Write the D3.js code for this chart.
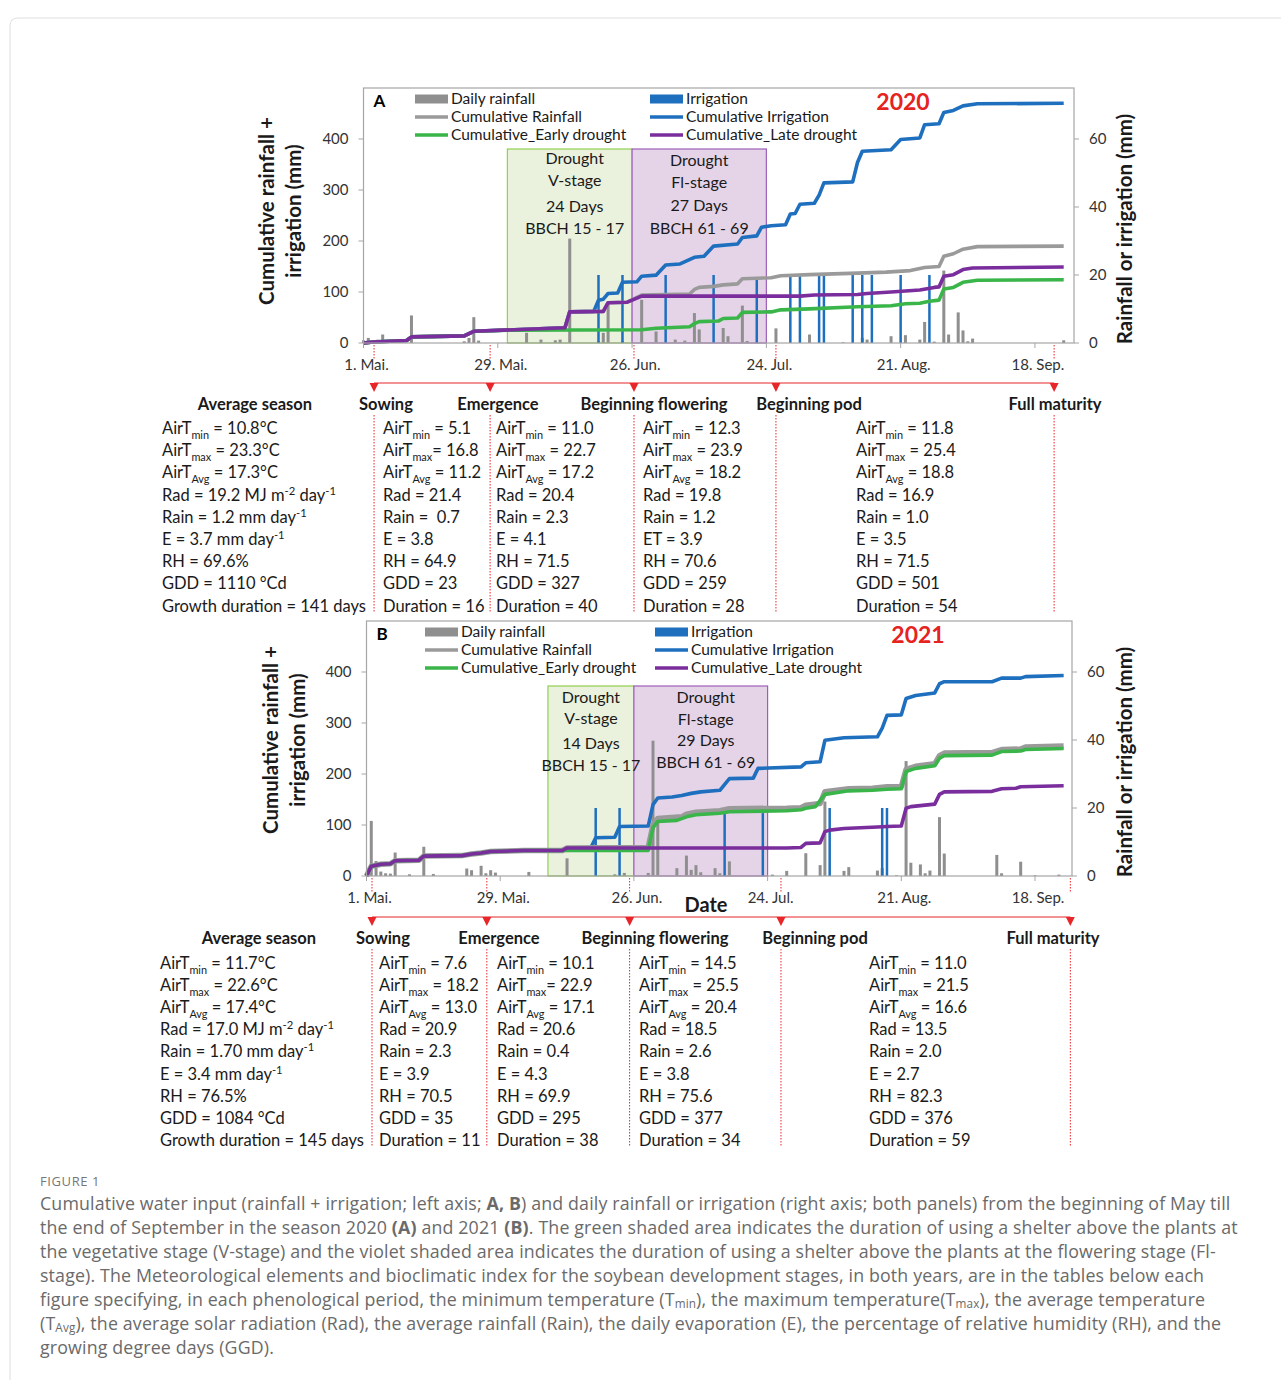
<!DOCTYPE html>
<html><head><meta charset="utf-8">
<script src="https://cdn.jsdelivr.net/npm/d3@7"></script>
<style>
body{margin:0;background:#fff}
svg text{font-family:Lato,"Open Sans",sans-serif;white-space:pre}
</style></head>
<body><svg id="c" width="1281" height="1380"></svg>
<script>
// ---------------- DATA ----------------
const tickDays = [0, 28, 56, 84, 112, 140];
const tickLabels = ["1. Mai.", "29. Mai.", "26. Jun.", "24. Jul.", "21. Aug.", "18. Sep."];
const leftTicks = [0, 100, 200, 300, 400];
const rightTicks = [0, 20, 40, 60];
const legendLabels = ["Daily rainfall", "Cumulative Rainfall", "Cumulative_Early drought", "Irrigation", "Cumulative Irrigation", "Cumulative_Late drought"];
const stageNames = ["Sowing", "Emergence", "Beginning flowering", "Beginning pod", "Full maturity"];

// 2020 (panel A): [day since 1 May, mm]
const rainA = [[0,0.8],[1,1.5],[3,1.0],[4,2.5],[10,8.1],[21,0.5],[22,1.5],[23,7.6],[24,0.7],[34,3.0],[37,1.0],[40,0.8],[41,1.0],[43,30.7],[49,0.5],[50,3.0],[51,11.8],[54,0.5],[58,12.7],[61,3.4],[65,1.0],[67,0.7],[69,8.8],[70,4.0],[75,4.4],[76,2.0],[79,11.0],[80,0.6],[86,4.3],[93,2.5],[100,0.2],[104,1.5],[105,1.0],[110,2.0],[113,2.3],[116,1.0],[117,6.2],[119,0.4],[121,21.3],[122,2.5],[124,9.0],[125,3.7],[126,0.5],[127,1.3],[146,0.8]];
const irrA = [[49,20],[54,20],[63,20],[73,20],[82,19],[89,20],[91,20],[95,20],[96,20],[102,20],[104,20],[106,20],[112,20],[118,20]];
const cumRainA = [[0,0],[2,2],[9,5],[10,12],[21,14],[23,23],[42,30],[43,61],[50,62],[51,79],[55,80],[58,94],[68,96],[69,105],[70,109],[73,111],[75,114],[78,116],[79,126],[85,128],[87,132],[93,134],[103,137],[109,139],[114,142],[117,148],[120,150],[121,170],[123,175],[125,184],[128,189],[146,190]];
const cumIrrA = [[0,0],[2,2],[9,5],[10,12],[21,14],[23,23],[42,30],[43,61],[48,62],[49,84],[50,86],[51,97],[53,98],[54,119],[57,120],[58,131],[61,133],[63,153],[66,155],[69,168],[71,170],[73,190],[78,194],[79,207],[82,210],[83,227],[85,230],[88,232],[89,253],[90,254],[91,272],[94,274],[95,290],[96,314],[102,316],[103,354],[104,376],[110,379],[112,399],[116,402],[117,428],[120,430],[121,452],[123,456],[125,465],[128,469],[146,470]];
const cumEarlyA = [[0,0],[2,2],[9,5],[10,12],[21,14],[23,23],[30,25],[58,26],[61,29],[68,32],[69,38],[70,42],[74,43],[75,48],[78,49],[79,60],[85,61],[87,65],[93,67],[103,71],[110,73],[113,77],[116,78],[118,82],[120,84],[121,106],[123,109],[125,119],[128,123],[146,124]];
const cumLateA = [[0,0],[2,2],[9,5],[10,12],[21,14],[23,23],[42,30],[43,61],[50,62],[51,79],[55,80],[58,92],[91,92],[94,94],[103,95],[105,97],[110,100],[113,102],[116,104],[119,109],[120,110],[121,131],[123,134],[125,144],[127,147],[146,149]];
const shelterA = [[30,56],[56,84]];
const shelterTextA = [["Drought","V-stage","24 Days","BBCH 15 - 17"],["Drought","Fl-stage","27 Days","BBCH 61 - 69"]];
const stageDaysA = [2.2, 26.4, 56.4, 86, 144];

// 2021 (panel B)
const rainB = [[1,16.2],[2,4.4],[3,1.3],[4,0.8],[5,0.7],[6,6.9],[9,0.5],[12,8.6],[14,0.6],[21,2.2],[22,1.7],[24,3.0],[25,0.8],[26,1.7],[27,1.0],[34,1.2],[42,5.2],[52,0.5],[54,0.9],[59,0.9],[60,39.8],[61,17.2],[65,2.3],[67,6.0],[68,1.8],[69,3.2],[70,1.1],[73,2.3],[74,0.8],[76,4.3],[85,0.4],[88,1.5],[92,6.7],[95,3.2],[96,21.9],[97,0.2],[100,1.5],[101,2.6],[107,1.6],[108,2.3],[111,0.2],[113,33.8],[114,3.9],[116,3.4],[117,0.8],[118,1.6],[120,17.3],[121,6.6],[132,6.2],[133,0.8],[137,4.2],[140,0.2],[145,0.4]];
const irrB = [[48,20],[53,20],[75,18.5],[83,18.5],[97,20],[108,20],[109,20]];
const cumRainB = [[0,0],[1,19],[3,23],[5,24],[6,30],[11,31],[12,39],[20,40],[22,43],[24,45],[26,48],[33,50],[41,50],[42,55],[59,56],[60,100],[61,113],[66,116],[67,121],[69,125],[74,128],[76,132],[88,133],[91,134],[92,139],[95,142],[96,165],[101,171],[106,172],[109,175],[112,175],[113,209],[115,215],[119,220],[120,236],[121,241],[131,242],[133,248],[137,249],[138,253],[146,255]];
const cumIrrB = [[0,0],[1,19],[3,23],[5,24],[6,30],[11,31],[12,39],[20,40],[22,43],[24,45],[26,48],[33,50],[41,50],[42,55],[47,56],[48,75],[52,76],[53,97],[59,98],[60,140],[61,153],[64,155],[66,158],[68,162],[70,165],[74,168],[76,191],[81,192],[82,211],[91,214],[92,222],[95,224],[96,266],[100,271],[107,273],[108,290],[109,315],[112,316],[113,348],[115,354],[119,359],[120,377],[121,381],[131,381],[133,388],[137,388],[138,391],[146,393]];
const cumEarlyB = [[0,0],[1,19],[3,23],[5,24],[6,30],[11,31],[12,39],[20,40],[22,43],[24,45],[26,48],[33,50],[41,50],[59,50],[60,95],[61,107],[65,109],[67,116],[69,120],[74,123],[76,126],[88,128],[91,130],[92,133],[94,136],[96,160],[101,167],[106,168],[109,170],[112,171],[113,205],[115,211],[119,216],[120,231],[121,236],[131,237],[133,244],[137,245],[138,248],[146,250]];
const cumLateB = [[0,0],[1,19],[3,23],[5,24],[6,30],[11,31],[12,39],[20,40],[22,43],[24,45],[26,48],[33,50],[41,50],[42,55],[88,55],[91,56],[92,64],[95,65],[96,87],[97,90],[100,93],[107,96],[109,97],[112,98],[113,133],[114,136],[119,141],[120,160],[121,165],[131,166],[133,171],[136,172],[137,175],[146,177]];
const shelterB = [[38,56],[56,84]];
const shelterTextB = [["Drought","V-stage","14 Days","BBCH 15 - 17"],["Drought","Fl-stage","29 Days","BBCH 61 - 69"]];
const stageDaysB = [1.15, 25.2, 55.1, 86.8, 147.4];

// tables
const avgA = ["AirT_{min} = 10.8°C","AirT_{max} = 23.3°C","AirT_{Avg} = 17.3°C","Rad = 19.2 MJ m^{-2} day^{-1}","Rain = 1.2 mm day^{-1}","E = 3.7 mm day^{-1}","RH = 69.6%","GDD = 1110 °Cd","Growth duration = 141 days"];
const sowA = ["AirT_{min} = 5.1","AirT_{max}= 16.8","AirT_{Avg} = 11.2","Rad = 21.4","Rain =  0.7","E = 3.8","RH = 64.9","GDD = 23","Duration = 16"];
const emA = ["AirT_{min} = 11.0","AirT_{max} = 22.7","AirT_{Avg} = 17.2","Rad = 20.4","Rain = 2.3","E = 4.1","RH = 71.5","GDD = 327","Duration = 40"];
const flA = ["AirT_{min} = 12.3","AirT_{max} = 23.9","AirT_{Avg} = 18.2","Rad = 19.8","Rain = 1.2","ET = 3.9","RH = 70.6","GDD = 259","Duration = 28"];
const podA = ["AirT_{min} = 11.8","AirT_{max} = 25.4","AirT_{Avg} = 18.8","Rad = 16.9","Rain = 1.0","E = 3.5","RH = 71.5","GDD = 501","Duration = 54"];
const avgB = ["AirT_{min} = 11.7°C","AirT_{max} = 22.6°C","AirT_{Avg} = 17.4°C","Rad = 17.0 MJ m^{-2} day^{-1}","Rain = 1.70 mm day^{-1}","E = 3.4 mm day^{-1}","RH = 76.5%","GDD = 1084 °Cd","Growth duration = 145 days"];
const sowB = ["AirT_{min} = 7.6","AirT_{max} = 18.2","AirT_{Avg} = 13.0","Rad = 20.9","Rain = 2.3","E = 3.9","RH = 70.5","GDD = 35","Duration = 11"];
const emB = ["AirT_{min} = 10.1","AirT_{max}= 22.9","AirT_{Avg} = 17.1","Rad = 20.6","Rain = 0.4","E = 4.3","RH = 69.9","GDD = 295","Duration = 38"];
const flB = ["AirT_{min} = 14.5","AirT_{max} = 25.5","AirT_{Avg} = 20.4","Rad = 18.5","Rain = 2.6","E = 3.8","RH = 75.6","GDD = 377","Duration = 34"];
const podB = ["AirT_{min} = 11.0","AirT_{max} = 21.5","AirT_{Avg} = 16.6","Rad = 13.5","Rain = 2.0","E = 2.7","RH = 82.3","GDD = 376","Duration = 59"];

const captionTitle = "FIGURE 1";
const captionLines = [
 "Cumulative water input (rainfall + irrigation; left axis; **A, B**) and daily rainfall or irrigation (right axis; both panels) from the beginning of May till",
 "the end of September in the season 2020 **(A)** and 2021 **(B)**. The green shaded area indicates the duration of using a shelter above the plants at",
 "the vegetative stage (V-stage) and the violet shaded area indicates the duration of using a shelter above the plants at the flowering stage (Fl-",
 "stage). The Meteorological elements and bioclimatic index for the soybean development stages, in both years, are in the tables below each",
 "figure specifying, in each phenological period, the minimum temperature (T_{min}), the maximum temperature(T_{max}), the average temperature",
 "(T_{Avg}), the average solar radiation (Rad), the average rainfall (Rain), the daily evaporation (E), the percentage of relative humidity (RH), and the",
 "growing degree days (GGD)."
];

// ---------------- DRAW ----------------
const C = {gray:"#8f8f8f", grayLine:"#9a9a9a", blue:"#1f6fbf", green:"#3ab54a", purple:"#7a2d9c",
  gFill:"#eaf1dd", gStroke:"#92d050", pFill:"#e5d4e8", pStroke:"#9b5fb8", red:"#e8262a", axis:"#a6a6a6", text:"#1a1a1a"};
const svg = d3.select("#c");

// page frame
svg.append("path").attr("d","M10,1380 L10,26 Q10,18 18,18 L1290,18").attr("fill","none").attr("stroke","#dedede").attr("stroke-width",1);

function rich(t, str, fs, subK){
  const k = subK || 0.28;
  const parts = str.split(/(_\{[^}]*\}|\^\{[^}]*\}|\*\*[^*]*\*\*)/).filter(s=>s.length);
  let shift = 0;
  parts.forEach(p=>{
    let txt=p, target=0, size=fs, bold=false;
    if(p.startsWith("_{")){txt=p.slice(2,-1); target=fs*k; size=fs*0.66;}
    else if(p.startsWith("^{")){txt=p.slice(2,-1); target=-fs*0.36; size=fs*0.68;}
    else if(p.startsWith("**")){txt=p.slice(2,-2); bold=true;}
    const ts = t.append("tspan").attr("dy", target-shift).style("font-size", size+"px").text(txt);
    if(bold) ts.style("font-weight","bold");
    shift = target;
  });
}

function panel(o){
  const g = svg.append("g");
  const x = d3.scaleLinear().domain([0,148]).range([o.x0, o.x1]);
  const yL = d3.scaleLinear().domain([0,500]).range([o.bottom, o.top]);
  const yR = d3.scaleLinear().domain([0,75]).range([o.bottom, o.top]);

  // shelter boxes
  const fills=[C.gFill,C.pFill], strokes=[C.gStroke,C.pStroke];
  o.shelter.forEach((s,i)=>{
    g.append("rect").attr("x",x(s[0])).attr("y",o.boxTop).attr("width",x(s[1])-x(s[0])).attr("height",o.bottom-o.boxTop)
     .attr("fill",fills[i]).attr("stroke",strokes[i]).attr("stroke-width",1.2);
  });
  // rain bars
  g.selectAll(".rb").data(o.rain).join("rect").attr("x",d=>x(d[0])-1.5).attr("width",3)
    .attr("y",d=>yR(d[1])).attr("height",d=>yR(0)-yR(d[1])).attr("fill",C.gray);
  g.selectAll(".ib").data(o.irr).join("rect").attr("x",d=>x(d[0])-1.25).attr("width",2.5)
    .attr("y",d=>yR(d[1])).attr("height",d=>yR(0)-yR(d[1])).attr("fill",C.blue);
  // lines
  const line = d3.line().x(d=>x(d[0])).y(d=>yL(d[1]));
  [[o.cumIrr,C.blue,3.6],[o.cumRain,C.grayLine,o.grayW],[o.cumEarly,C.green,3.6],[o.cumLate,C.purple,3.6]].forEach(s=>{
    g.append("path").attr("d",line(s[0])).attr("fill","none").attr("stroke",s[1]).attr("stroke-width",s[2])
     .attr("stroke-linejoin","round").attr("stroke-linecap","butt");
  });
  // shelter text
  o.shelter.forEach((s,i)=>{
    const cx = (x(s[0])+x(s[1]))/2 + o.textDx[i];
    o.shelterText[i].forEach((t,j)=>{
      g.append("text").attr("x",cx).attr("y",o.textY[i][j]).attr("text-anchor","middle")
       .style("font-size","16px").attr("fill",C.text).text(t);
    });
  });
  // frame
  g.append("rect").attr("x",o.x0).attr("y",o.top).attr("width",o.boxR-o.x0).attr("height",o.bottom-o.top)
   .attr("fill","none").attr("stroke",C.axis).attr("stroke-width",1.2);
  // left ticks
  leftTicks.forEach(v=>{
    g.append("line").attr("x1",o.x0-5).attr("x2",o.x0).attr("y1",yL(v)).attr("y2",yL(v)).attr("stroke",C.axis);
    g.append("text").attr("x",o.x0-15).attr("y",yL(v)+5).attr("text-anchor","end").style("font-size","15px").attr("fill","#333").text(v);
  });
  rightTicks.forEach(v=>{
    g.append("line").attr("x1",o.boxR).attr("x2",o.boxR+5).attr("y1",yR(v)).attr("y2",yR(v)).attr("stroke",C.axis);
    g.append("text").attr("x",o.boxR+15).attr("y",yR(v)+5).attr("text-anchor","start").style("font-size","15px").attr("fill","#333").text(v);
  });
  tickDays.forEach((d,i)=>{
    g.append("line").attr("x1",x(d)).attr("x2",x(d)).attr("y1",o.bottom).attr("y2",o.bottom+5).attr("stroke",C.axis);
    g.append("text").attr("x",x(d)+3).attr("y",o.bottom+27).attr("text-anchor","middle").style("font-size","15px").attr("fill","#333").text(tickLabels[i]);
  });
  // axis titles
  const lt = g.append("text").attr("transform",`translate(${o.ltX},${o.ltY}) rotate(-90)`).attr("text-anchor","middle")
    .style("font-size","20.5px").style("font-weight","bold").attr("fill",C.text);
  lt.append("tspan").attr("x",0).attr("dy",0).text("Cumulative rainfall +");
  lt.append("tspan").attr("x",0).attr("dy",27).text("irrigation (mm)");
  g.append("text").attr("transform",`translate(${o.rtX},${o.rtY}) rotate(-90)`).attr("text-anchor","middle")
    .style("font-size","20.5px").style("font-weight","bold").attr("fill",C.text).text("Rainfall or irrigation (mm)");
  // panel letter & year
  g.append("text").attr("x",o.x0+10).attr("y",o.top+19).style("font-size","17px").style("font-weight","bold").attr("fill","#000").text(o.letter);
  g.append("text").attr("x",o.yearX).attr("y",o.top+22).attr("text-anchor","middle").style("font-size","23px").style("font-weight","bold").attr("fill","#e5231f").text(o.year);
  // legend
  const L = o.leg;
  const rows = [L.y0, L.y0+18, L.y0+36];
  [[0,C.gray,"rect"],[1,C.grayLine,"line"],[2,C.green,"line"]].forEach((e,i)=>{
    if(e[2]==="rect") g.append("rect").attr("x",L.x1).attr("y",rows[i]-4.5).attr("width",33).attr("height",9).attr("fill",e[1]);
    else g.append("line").attr("x1",L.x1).attr("x2",L.x1+33).attr("y1",rows[i]).attr("y2",rows[i]).attr("stroke",e[1]).attr("stroke-width",3.5);
    g.append("text").attr("x",L.x1+36).attr("y",rows[i]+5).style("font-size","15.5px").attr("fill",C.text).text(legendLabels[e[0]]);
  });
  [[3,C.blue,"rect"],[4,C.blue,"line"],[5,C.purple,"line"]].forEach((e,i)=>{
    if(e[2]==="rect") g.append("rect").attr("x",L.x2).attr("y",rows[i]-4.5).attr("width",33).attr("height",9).attr("fill",e[1]);
    else g.append("line").attr("x1",L.x2).attr("x2",L.x2+33).attr("y1",rows[i]).attr("y2",rows[i]).attr("stroke",e[1]).attr("stroke-width",3.5);
    g.append("text").attr("x",L.x2+36).attr("y",rows[i]+5).style("font-size","15.5px").attr("fill",C.text).text(legendLabels[e[0]]);
  });
  // stage timeline
  const sx = o.stages.map(d=>x(d));
  sx.forEach(v=>{
    g.append("line").attr("x1",v).attr("x2",v).attr("y1",o.bottom+2).attr("y2",o.bottom+17).attr("stroke",C.red).attr("stroke-width",1).attr("stroke-dasharray","1.5,1.5");
    g.append("line").attr("x1",v).attr("x2",v).attr("y1",o.tabTop).attr("y2",o.tabBot).attr("stroke",C.red).attr("stroke-width",1).attr("stroke-dasharray","1.5,1.5");
    g.append("path").attr("d",`M${v-4.5},${o.lineY} L${v+4.5},${o.lineY} L${v},${o.lineY+9} Z`).attr("fill",C.red);
  });
  g.append("line").attr("x1",sx[0]).attr("x2",sx[sx.length-1]).attr("y1",o.lineY).attr("y2",o.lineY).attr("stroke",C.red).attr("stroke-width",1.2);
  // table
  const hdr = ["Average season"].concat(stageNames);
  hdr.forEach((h,i)=>{
    g.append("text").attr("x",o.hdrX[i]).attr("y",o.hdrY+6).attr("text-anchor","middle").style("font-size","16.5px").style("font-weight","bold").attr("fill",C.text).text(h);
  });
  o.cols.forEach((col,ci)=>{
    col.forEach((s,ri)=>{
      const t = g.append("text").attr("x",o.colX[ci]).attr("y",o.rowY0+ri*o.rowDy+6).style("font-size","16.5px").attr("fill",C.text);
      rich(t,s,16.5);
    });
  });
  return {x};
}

panel({x0:363.5,x1:1073.3,boxR:1074,top:88,bottom:343,boxTop:149,
  rain:rainA,irr:irrA,cumRain:cumRainA,cumIrr:cumIrrA,cumEarly:cumEarlyA,cumLate:cumLateA,grayW:3.6,
  shelter:shelterA,shelterText:shelterTextA,textDx:[5,0],textY:[[164,186,212,234],[166,188,211,234]],
  ltX:274,ltY:211,rtX:1132,rtY:229,letter:"A",year:"2020",yearX:903,leg:{x1:415,x2:650,y0:99},
  stages:stageDaysA,lineY:383,tabTop:415,tabBot:612,
  hdrX:[255,386,498,654,809,1055],hdrY:404,colX:[162,383,496,643,856],rowY0:428,rowDy:22.2,
  cols:[avgA,sowA,emA,flA,podA]});

panel({x0:366.5,x1:1073.2,boxR:1072,top:621,bottom:876,boxTop:686,
  rain:rainB,irr:irrB,cumRain:cumRainB,cumIrr:cumIrrB,cumEarly:cumEarlyB,cumLate:cumLateB,grayW:5.5,
  shelter:shelterB,shelterText:shelterTextB,textDx:[0,5],textY:[[703,724,749,771],[703,725,746,768]],
  ltX:278,ltY:740,rtX:1132,rtY:762,letter:"B",year:"2021",yearX:918,leg:{x1:425,x2:655,y0:632},
  stages:stageDaysB,lineY:917,tabTop:949,tabBot:1146,
  hdrX:[259,383,499,655,815,1053],hdrY:938,colX:[160,379,497,639,869],rowY0:963,rowDy:22.1,
  cols:[avgB,sowB,emB,flB,podB]});

svg.append("text").attr("x",706).attr("y",912).attr("text-anchor","middle").style("font-size","20px").style("font-weight","bold").attr("fill",C.text).text("Date");

// caption
svg.append("text").attr("x",40).attr("y",1186).style("font-family","'Open Sans',sans-serif").style("font-size","13px").style("letter-spacing","0.6px").attr("fill","#777").text(captionTitle);
captionLines.forEach((l,i)=>{
  const t = svg.append("text").attr("x",40).attr("y",1210+i*24).style("font-family","'Open Sans',sans-serif")
    .style("letter-spacing","0.15px").attr("fill","#6a6a6a");
  rich(t,l,17.8,0.14);
});
</script></body></html>
